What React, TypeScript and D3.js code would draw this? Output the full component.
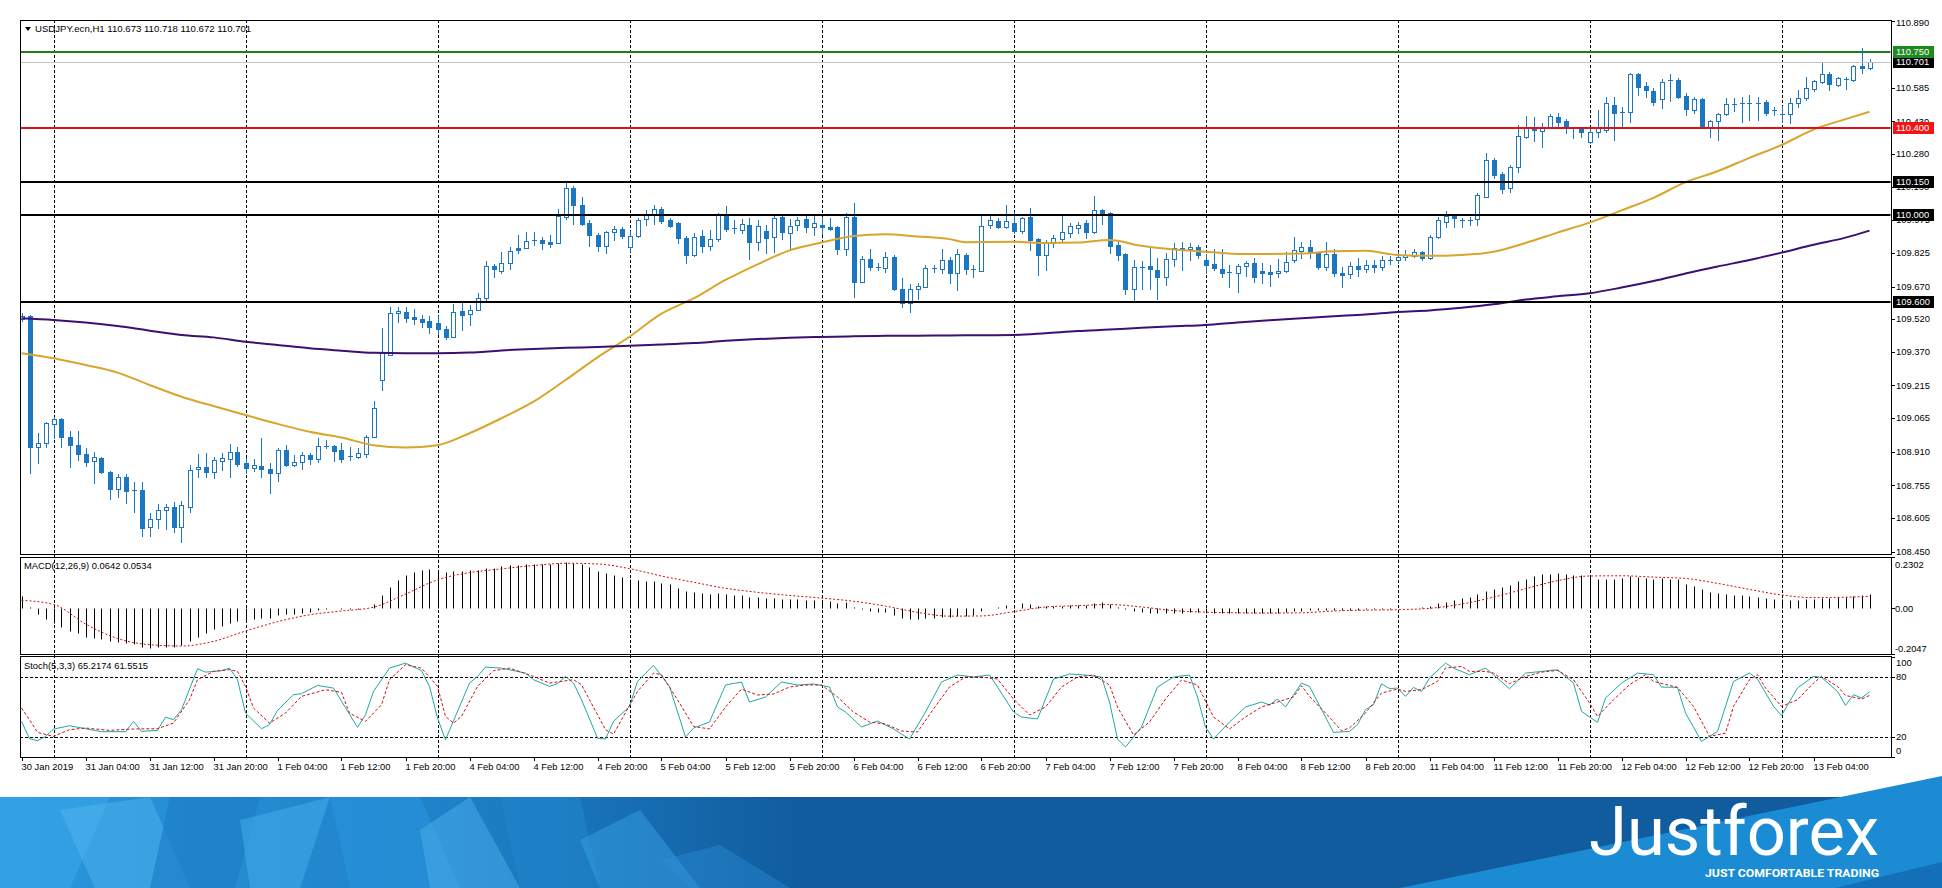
import React from "react";
import * as d3 from "d3";

// ---------------- DATA ----------------
const OPEN = [
109.520,109.536,108.930,108.952,109.038,109.061,108.978,108.940,108.898,108.866,
108.880,108.819,108.737,108.792,108.734,108.734,108.566,108.601,108.641,108.656,
108.566,108.658,108.829,108.841,108.819,108.869,108.878,108.907,108.857,108.834,
108.846,108.831,108.814,108.918,108.851,108.861,108.895,108.878,108.938,108.937,
108.918,108.890,108.885,108.900,108.979,109.240,109.355,109.547,109.554,109.531,
109.521,109.512,109.500,109.473,109.440,109.556,109.542,109.562,109.616,109.766,
109.743,109.777,109.846,109.846,109.881,109.884,109.875,109.869,109.991,110.122,
110.045,109.964,109.907,109.856,109.919,109.935,109.853,109.902,109.979,109.999,
110.025,109.976,109.961,109.892,109.815,109.904,109.856,109.887,110.000,109.938,
109.930,109.953,109.876,109.925,109.899,109.991,109.915,109.953,109.979,109.942,
109.953,109.944,109.945,109.841,109.991,109.692,109.795,109.760,109.754,109.804,
109.657,109.596,109.657,109.669,109.752,109.749,109.792,109.734,109.815,109.749,
109.743,109.953,109.973,109.945,109.964,109.927,109.991,109.887,109.815,109.869,
109.889,109.918,109.938,109.961,109.919,110.022,110.010,109.861,109.820,109.657,
109.761,109.764,109.746,109.715,109.795,109.849,109.841,109.850,109.792,109.772,
109.751,109.734,109.731,109.764,109.777,109.743,109.739,109.731,109.743,109.792,
109.835,109.851,109.828,109.762,109.820,109.734,109.728,109.766,109.752,109.770,
109.760,109.790,109.792,109.804,109.812,109.827,109.800,109.896,109.969,109.995,
109.973,109.976,109.981,110.083,110.252,110.188,110.122,110.218,110.359,110.405,
110.387,110.401,110.451,110.431,110.397,110.398,110.333,110.379,110.390,110.505,
110.474,110.474,110.648,110.592,110.571,110.531,110.620,110.620,110.546,110.482,
110.531,110.402,110.433,110.464,110.510,110.513,110.516,110.516,110.520,110.478,
110.462,110.464,110.513,110.536,110.577,110.612,110.648,110.597,110.623,110.620,
110.684,110.673];

const HIGH = [
109.550,109.539,108.995,109.048,109.068,109.064,109.006,109.006,108.926,108.910,
108.884,108.820,108.808,108.808,108.772,108.769,108.627,108.670,108.670,108.677,
108.685,108.849,108.900,108.903,108.888,108.903,108.946,108.933,108.880,108.875,
108.972,108.857,108.929,108.941,108.895,108.907,108.906,108.972,108.964,108.940,
108.949,108.934,108.926,108.987,109.145,109.478,109.577,109.577,109.577,109.565,
109.539,109.536,109.535,109.489,109.588,109.600,109.585,109.642,109.789,109.774,
109.830,109.850,109.907,109.922,109.922,109.899,109.907,110.025,110.157,110.132,
110.080,109.976,109.915,109.927,109.948,109.945,109.927,109.984,110.022,110.045,
110.037,109.984,109.968,109.902,109.915,109.930,109.930,110.007,110.040,109.976,
109.979,109.984,109.976,109.953,109.999,109.994,109.979,109.991,109.994,110.000,
109.991,109.984,109.948,110.007,110.053,109.810,109.841,109.777,109.830,109.815,
109.708,109.682,109.688,109.769,109.769,109.841,109.804,109.841,109.823,109.769,
110.000,110.000,109.984,110.045,110.014,109.991,110.030,109.892,109.884,109.907,
110.002,109.961,109.968,109.976,110.086,110.025,110.014,109.876,109.823,109.792,
109.789,109.846,109.800,109.823,109.872,109.876,109.872,109.861,109.820,109.841,
109.841,109.769,109.774,109.789,109.800,109.777,109.769,109.795,109.831,109.900,
109.877,109.884,109.831,109.877,109.841,109.762,109.785,109.800,109.790,109.792,
109.810,109.810,109.831,109.838,109.841,109.835,109.907,109.992,110.019,110.000,
109.984,109.992,110.099,110.283,110.260,110.198,110.229,110.413,110.454,110.451,
110.424,110.464,110.470,110.439,110.402,110.405,110.402,110.482,110.543,110.540,
110.497,110.651,110.651,110.612,110.582,110.623,110.648,110.628,110.562,110.543,
110.536,110.436,110.467,110.536,110.536,110.543,110.551,110.540,110.528,110.497,
110.500,110.536,110.574,110.635,110.620,110.704,110.658,110.635,110.632,110.689,
110.766,110.718];

const LOW = [
109.510,108.811,108.857,108.933,108.972,108.933,108.841,108.872,108.846,108.768,
108.811,108.693,108.703,108.676,108.634,108.524,108.524,108.558,108.553,108.539,
108.495,108.634,108.792,108.795,108.788,108.826,108.792,108.846,108.811,108.823,
108.795,108.722,108.777,108.846,108.844,108.831,108.854,108.863,108.926,108.868,
108.864,108.872,108.880,108.888,108.976,109.194,109.355,109.508,109.508,109.496,
109.485,109.455,109.452,109.429,109.440,109.470,109.493,109.562,109.600,109.715,
109.731,109.749,109.823,109.846,109.861,109.841,109.853,109.869,109.979,109.958,
109.953,109.856,109.835,109.826,109.884,109.892,109.835,109.899,109.953,109.958,
109.964,109.945,109.869,109.777,109.811,109.830,109.838,109.881,109.927,109.915,
109.915,109.795,109.838,109.823,109.830,109.889,109.838,109.930,109.922,109.907,
109.912,109.930,109.820,109.815,109.623,109.691,109.746,109.746,109.738,109.654,
109.574,109.554,109.611,109.666,109.738,109.731,109.685,109.654,109.728,109.715,
109.743,109.938,109.938,109.938,109.918,109.915,109.838,109.723,109.746,109.853,
109.876,109.899,109.915,109.892,109.915,109.958,109.823,109.792,109.636,109.605,
109.657,109.657,109.611,109.677,109.764,109.746,109.792,109.800,109.731,109.746,
109.712,109.669,109.646,109.718,109.693,109.685,109.673,109.716,109.739,109.785,
109.800,109.800,109.750,109.745,109.720,109.670,109.708,109.720,109.735,109.738,
109.745,109.775,109.777,109.792,109.808,109.792,109.795,109.892,109.946,109.946,
109.946,109.953,109.953,110.083,110.168,110.102,110.106,110.198,110.352,110.341,
110.313,110.398,110.402,110.378,110.352,110.356,110.332,110.359,110.382,110.344,
110.402,110.428,110.551,110.543,110.505,110.490,110.525,110.536,110.459,110.470,
110.398,110.359,110.344,110.459,110.479,110.428,110.436,110.436,110.459,110.459,
110.425,110.421,110.494,110.528,110.571,110.608,110.574,110.592,110.577,110.617,
110.651,110.672];

const CLOSE = [
109.535,108.930,108.949,109.041,109.059,108.976,108.940,108.898,108.864,108.886,
108.819,108.737,108.792,108.731,108.732,108.561,108.601,108.642,108.656,108.566,
108.665,108.826,108.841,108.819,108.872,108.881,108.907,108.854,108.834,108.849,
108.829,108.814,108.918,108.849,108.863,108.895,108.875,108.937,108.937,108.915,
108.877,108.888,108.906,108.979,109.110,109.363,109.547,109.558,109.524,109.519,
109.508,109.485,109.473,109.440,109.554,109.541,109.562,109.616,109.765,109.749,
109.777,109.833,109.838,109.881,109.882,109.872,109.866,109.994,110.122,110.045,
109.958,109.907,109.856,109.919,109.935,109.904,109.902,109.976,109.999,110.025,
109.973,109.950,109.892,109.815,109.899,109.856,109.887,110.000,109.933,109.938,
109.958,109.876,109.948,109.895,109.987,109.919,109.948,109.976,109.942,109.964,
109.942,109.935,109.841,109.991,109.692,109.795,109.758,109.758,109.804,109.657,
109.593,109.657,109.672,109.754,109.753,109.792,109.734,109.820,109.749,109.750,
109.948,109.976,109.942,109.971,109.927,109.984,109.884,109.815,109.872,109.892,
109.922,109.948,109.953,109.919,110.022,110.010,109.858,109.815,109.657,109.761,
109.762,109.749,109.715,109.795,109.846,109.838,109.853,109.815,109.769,109.754,
109.734,109.735,109.764,109.780,109.716,109.731,109.728,109.743,109.785,109.838,
109.851,109.826,109.762,109.820,109.731,109.723,109.766,109.752,109.770,109.760,
109.790,109.793,109.804,109.815,109.827,109.800,109.900,109.976,109.995,109.984,
109.974,109.977,110.091,110.252,110.183,110.117,110.221,110.363,110.405,110.390,
110.401,110.454,110.428,110.402,110.396,110.379,110.379,110.398,110.513,110.467,
110.468,110.648,110.589,110.574,110.520,110.612,110.614,110.543,110.485,110.531,
110.402,110.431,110.462,110.510,110.511,110.512,110.515,110.513,110.467,110.482,
110.459,110.513,110.536,110.582,110.615,110.648,110.602,110.628,110.624,110.684,
110.673,110.701];

// moving averages read at sample bars: [bar, price]
const MA_FAST: [number, number][] = [
[0,109.363],[4,109.340],[8,109.309],[12,109.274],[16,109.217],[20,109.163],[24,109.120],
[28,109.079],[32,109.038],[36,109.002],[40,108.975],[44,108.940],[48,108.929],[52,108.940],
[56,108.995],[60,109.064],[64,109.140],[68,109.240],[72,109.344],[76,109.439],[80,109.545],
[84,109.615],[88,109.700],[92,109.772],[96,109.836],[100,109.872],[104,109.902],[108,109.910],
[112,109.900],[116,109.888],[118,109.874],[124,109.876],[128,109.870],[132,109.872],
[136,109.884],[140,109.857],[144,109.840],[148,109.830],[152,109.820],[156,109.820],
[160,109.822],[164,109.832],[168,109.834],[172,109.815],[176,109.811],[180,109.815],
[184,109.830],[188,109.870],[192,109.918],[196,109.964],[200,110.020],[204,110.078],
[208,110.150],[212,110.200],[216,110.262],[220,110.321],[224,110.392],[228,110.440],[231,110.474]];

const MA_SLOW: [number, number][] = [
[0,109.524],[4,109.516],[8,109.504],[12,109.488],[16,109.467],[20,109.447],[24,109.436],
[28,109.416],[32,109.401],[36,109.386],[40,109.375],[44,109.365],[48,109.363],[52,109.363],
[56,109.366],[60,109.376],[64,109.383],[68,109.388],[72,109.392],[76,109.397],[80,109.403],
[84,109.410],[88,109.420],[92,109.428],[96,109.434],[100,109.438],[104,109.441],[108,109.443],
[112,109.444],[116,109.445],[120,109.446],[124,109.447],[128,109.455],[132,109.465],
[136,109.472],[140,109.480],[144,109.487],[148,109.493],[152,109.505],[156,109.515],
[160,109.524],[164,109.533],[168,109.541],[172,109.553],[176,109.560],[180,109.572],
[184,109.588],[188,109.610],[192,109.625],[196,109.639],[200,109.665],[204,109.695],
[208,109.730],[212,109.762],[216,109.792],[220,109.826],[224,109.862],[228,109.895],[231,109.927]];

const MACD_HIST = [
0.055,0.006,-0.027,-0.049,-0.064,-0.082,-0.102,-0.109,-0.127,-0.132,
-0.139,-0.146,-0.149,-0.157,-0.161,-0.172,-0.176,-0.172,-0.172,-0.172,
-0.166,-0.146,-0.127,-0.109,-0.094,-0.079,-0.064,-0.057,-0.052,-0.049,
-0.042,-0.042,-0.031,-0.027,-0.027,-0.019,-0.015,-0.009,-0.003,0.000,
-0.001,-0.001,-0.001,0.003,0.018,0.060,0.096,0.127,0.148,0.164,
0.170,0.175,0.163,0.163,0.166,0.167,0.170,0.172,0.179,0.182,
0.190,0.193,0.196,0.197,0.197,0.197,0.200,0.202,0.208,0.205,
0.197,0.185,0.167,0.160,0.148,0.141,0.133,0.127,0.123,0.123,
0.115,0.111,0.093,0.078,0.075,0.070,0.066,0.068,0.066,0.062,
0.060,0.053,0.050,0.045,0.046,0.042,0.040,0.040,0.038,0.037,
0.035,0.033,0.025,0.028,0.008,-0.002,-0.010,-0.016,-0.018,-0.030,
-0.042,-0.046,-0.048,-0.045,-0.043,-0.040,-0.040,-0.035,-0.034,-0.032,
-0.012,0.000,0.008,0.014,0.017,0.022,0.020,0.012,0.010,0.010,
0.012,0.015,0.017,0.016,0.024,0.027,0.018,0.008,-0.005,-0.012,
-0.016,-0.019,-0.022,-0.022,-0.020,-0.019,-0.018,-0.018,-0.020,-0.021,
-0.022,-0.023,-0.022,-0.020,-0.020,-0.021,-0.021,-0.019,-0.016,-0.012,
-0.010,-0.008,-0.008,-0.008,-0.007,-0.007,-0.006,-0.006,-0.005,-0.004,
-0.002,-0.001,0.000,0.001,0.002,0.006,0.010,0.022,0.030,0.037,
0.045,0.052,0.063,0.078,0.085,0.096,0.105,0.123,0.133,0.145,
0.152,0.155,0.160,0.155,0.149,0.148,0.145,0.133,0.133,0.133,
0.138,0.145,0.141,0.138,0.133,0.135,0.133,0.130,0.111,0.100,
0.085,0.075,0.067,0.063,0.060,0.058,0.055,0.052,0.048,0.043,
0.040,0.037,0.037,0.040,0.043,0.045,0.048,0.051,0.052,0.055,
0.058,0.0642];

const MACD_SIGNAL: [number, number][] = [
[0,0.036],[4,0.018],[8,-0.070],[12,-0.135],[16,-0.163],[20,-0.169],[24,-0.148],[28,-0.102],
[32,-0.060],[36,-0.029],[40,-0.012],[44,0.005],[48,0.064],[52,0.128],[56,0.160],[60,0.177],
[64,0.192],[68,0.202],[72,0.199],[76,0.178],[80,0.145],[84,0.117],[88,0.090],[92,0.072],
[96,0.058],[100,0.046],[104,0.032],[108,0.010],[112,-0.018],[116,-0.035],[120,-0.034],
[124,-0.015],[128,0.006],[132,0.012],[136,0.017],[140,0.006],[144,-0.010],[148,-0.017],
[152,-0.020],[156,-0.021],[160,-0.020],[164,-0.012],[168,-0.008],[172,-0.006],[176,0.000],
[180,0.019],[184,0.050],[188,0.088],[192,0.124],[196,0.145],[200,0.146],[204,0.140],
[208,0.134],[212,0.112],[216,0.085],[220,0.060],[224,0.048],[228,0.050],[231,0.0534]];

const STOCH_K: [number, number][] = [
[0,35.6],[1,18.3],[2,16.3],[3,20.6],[4,27.9],[6,31.3],[8,28.3],[10,25.3],[13,25.3],[14,35.6],
[15,25.6],[17,26.6],[18,39.9],[19,37.3],[20,47.3],[22,88.3],[23,84.9],[25,86.3],[26,88.9],
[27,77.3],[28,43.9],[30,28.3],[31,32.3],[32,46.6],[34,62.3],[35,63.3],[37,71.6],[39,68.9],
[42,29.6],[43,42.3],[44,65.6],[46,88.9],[48,93.9],[50,86.3],[51,70.6],[52,38.9],[53,17.3],
[56,73.9],[57,80.6],[58,89.9],[60,88.9],[63,83.9],[64,77.3],[66,70.6],[67,73.3],[68,80.6],
[69,73.9],[70,57.3],[72,18.9],[73,17.9],[74,35.6],[76,50.6],[77,75.6],[79,91.6],[81,70.6],
[83,19.9],[84,28.9],[86,35],[88,72],[90,75],[91,55],[93,60],[95,75],[97,72],[99,73],[101,70],
[102,50],[103,45],[105,30],[107,36],[109,28],[111,18],[113,45],[115,75],[117,82],[119,80],
[121,82],[122,70],[124,45],[125,40],[127,38],[129,78],[131,83],[133,82],[135,80],[136,55],
[137,18],[138,10],[140,30],[142,70],[144,80],[146,82],[147,60],[148,30],[149,18],[151,35],
[153,50],[155,55],[156,52],[157,58],[158,50],[160,73.9],[161,70.6],[164,24.6],[166,25.6],
[167,32.3],[168,47.3],[169,52.3],[170,73.3],[171,68.3],[172,69],[173,60.6],[174,69.6],
[175,65.6],[176,78.9],[178,93.9],[179,88.9],[181,82.3],[183,88.9],[184,82.3],[186,68.3],
[188,83.9],[190,85.6],[192,87.3],[194,73.9],[195,45.6],[197,34.6],[198,59],[200,73.9],
[202,83.9],[204,82.3],[205,69.9],[207,69.6],[208,44],[210,15.6],[212,25.6],[214,75.6],
[216,83.9],[217,77.9],[219,50.6],[220,41.6],[222,69],[224,80.6],[225,79.6],[227,65.6],
[228,51.6],[229,62.3],[230,59],[231,65.2]];

const STOCH_D: [number, number][] = [
[0,48.9],[1,37.3],[2,24.6],[4,20.6],[6,27.3],[8,29],[11,26.6],[14,28],[17,28.3],[19,33.9],
[21,57.3],[22,77.3],[24,85.6],[26,87.3],[27,85.6],[28,70.6],[29,48.9],[31,33.9],[33,43.9],
[35,60.6],[38,67.3],[40,64.6],[41,43.9],[43,35.6],[45,52.3],[46,77.3],[48,92.3],[50,88.9],
[52,70.6],[53,40.6],[54,33.9],[55,40.6],[57,70.6],[59,86.3],[61,88.9],[64,80.6],[66,73.9],
[69,77.3],[70,72.3],[71,57.3],[73,27.3],[74,22.9],[75,37.3],[77,65.6],[79,83.9],[80,82.3],
[82,57.3],[84,30.6],[86,28],[88,50],[90,68],[92,62],[94,63],[96,70],[98,72],[100,72],[102,60],
[104,45],[106,35],[108,33],[110,26],[112,25],[114,48],[116,70],[118,80],[120,80],[122,78],
[124,58],[126,42],[128,50],[130,70],[132,80],[134,82],[136,72],[137,50],[139,22],[141,35],
[143,58],[145,77],[147,72],[149,40],[151,28],[153,40],[155,50],[157,55],[159,60],[160,71.3],
[161,60.6],[163,44],[165,26.3],[166,29],[168,44],[170,64],[172,67.9],[173,65.6],[175,67.3],
[177,75.6],[178,88.9],[180,90.6],[181,85.6],[183,85.6],[184,83.9],[186,73.3],[188,80.6],
[190,84.9],[192,86.6],[194,77.3],[196,54],[197,40.6],[199,57.3],[201,72.3],[203,82.3],
[204,75.6],[207,69.6],[209,50.6],[211,20.6],[213,23.9],[214,50.6],[216,77.3],[217,82.3],
[218,69],[220,50.6],[222,57.3],[224,73.9],[225,80.6],[227,70.6],[228,61.6],[230,57.9],[231,61.6]];

const TIME_LABELS = [
"30 Jan 2019","31 Jan 04:00","31 Jan 12:00","31 Jan 20:00","1 Feb 04:00","1 Feb 12:00",
"1 Feb 20:00","4 Feb 04:00","4 Feb 12:00","4 Feb 20:00","5 Feb 04:00","5 Feb 12:00",
"5 Feb 20:00","6 Feb 04:00","6 Feb 12:00","6 Feb 20:00","7 Feb 04:00","7 Feb 12:00",
"7 Feb 20:00","8 Feb 04:00","8 Feb 12:00","8 Feb 20:00","11 Feb 04:00","11 Feb 12:00",
"11 Feb 20:00","12 Feb 04:00","12 Feb 12:00","12 Feb 20:00","13 Feb 04:00"];
const TIME_LABEL_BARS = TIME_LABELS.map((_, k) => k * 8);
const GRID_BARS = [4, 28, 52, 76, 100, 124, 148, 172, 196, 220];
const PRICE_TICKS = [110.890,110.585,110.430,110.280,110.130,109.975,109.825,109.670,
109.520,109.370,109.215,109.065,108.910,108.755,108.605,108.450];
const LEVEL_PRICES = [110.750, 110.400, 110.150, 110.000, 109.600];
const LEVEL_KINDS = ["green", "red", "black", "black", "black"];
const LAST_PRICE = 110.701;
const MACD_TICKS = [0.2302, 0, -0.2047];
const MACD_TICK_TEXT = ["0.2302", "0.00", "-0.2047"];
const STOCH_TICKS = [100, 80, 20, 0];
const STOCH_LEVELS = [80, 20];
const HEADER = "USDJPY.ecn,H1  110.673 110.718 110.672 110.701";
const MACD_TITLE = "MACD(12,26,9) 0.0642 0.0534";
const STOCH_TITLE = "Stoch(5,3,3) 65.2174 61.5515";

// ---------------- CHART ----------------
const FONT = "'Liberation Sans', Arial, sans-serif";
const BLUE = "#1a77c0";

export default function App() {
  const W = 1942, H = 888;
  const L = 20, R = 1891;
  const mainT = 20, mainB = 554, macdT = 557, macdB = 654, stoT = 656, stoB = 757;

  const x = d3.scaleLinear().domain([0, 231]).range([21.5, 21.5 + 8 * 231]);
  const y = d3.scaleLinear().domain([108.4395, 110.896]).range([mainB, mainT]);
  const ym = d3.scaleLinear().domain([-0.2047, 0.2302]).range([macdB, macdT]);
  const ys = d3.scaleLinear().domain([0, 100]).range([757, 657]);

  const maLine = d3.line<[number, number]>().x(d => x(d[0])).y(d => y(d[1])).curve(d3.curveMonotoneX);
  const sigLine = d3.line<[number, number]>().x(d => x(d[0])).y(d => ym(d[1])).curve(d3.curveMonotoneX);
  const stLine = d3.line<[number, number]>().x(d => x(d[0])).y(d => ys(d[1]));

  const levelColor: Record<string, string> = { green: "#1e7d1e", red: "#dc1414", black: "#000" };
  const levelBox: Record<string, string> = { green: "#1f8a1f", red: "#f41414", black: "#000" };

  const clampY = (v: number, lo: number, hi: number) => Math.max(lo, Math.min(hi, v));

  const candles = OPEN.map((o, i) => {
    const c = CLOSE[i], h = HIGH[i], l = LOW[i];
    const cx = Math.round(x(i)) + 0.5;
    const yTop = Math.round(y(Math.max(o, c)));
    const yBot = Math.round(y(Math.min(o, c)));
    const yh = Math.round(y(h)), yl = Math.round(y(l));
    const bull = c >= o;
    const doji = yBot - yTop <= 1;
    return (
      <g key={i}>
        <line x1={cx} x2={cx} y1={yh} y2={yl + 1} stroke={BLUE} strokeWidth={1} />
        {doji ? (
          <line x1={cx - 2.5} x2={cx + 2.5} y1={yTop + 0.5} y2={yTop + 0.5} stroke={BLUE} strokeWidth={1} />
        ) : bull ? (
          <rect x={cx - 2} y={yTop + 0.5} width={4} height={yBot - yTop} fill="#fff" stroke={BLUE} strokeWidth={1} />
        ) : (
          <rect x={cx - 2.5} y={yTop} width={5} height={yBot - yTop + 1} fill={BLUE} />
        )}
      </g>
    );
  });

  const zeroY = Math.round(ym(0)) + 0.5;

  return (
    <svg width={W} height={H} style={{ position: "absolute", left: 0, top: 0 }} fontFamily={FONT}>
      <defs>
        <clipPath id="cpMain"><rect x={L + 0.5} y={mainT + 0.5} width={R - L - 1} height={mainB - mainT - 1} /></clipPath>
        <clipPath id="cpMacd"><rect x={L + 0.5} y={macdT + 0.5} width={R - L - 1} height={macdB - macdT - 1} /></clipPath>
        <clipPath id="cpSto"><rect x={L + 0.5} y={stoT + 0.5} width={R - L - 1} height={stoB - stoT - 1} /></clipPath>
        <linearGradient id="gLeft" x1="0" x2="1" y1="0" y2="0">
          <stop offset="0" stopColor="#2b97dc" />
          <stop offset="0.55" stopColor="#1f82c9" />
          <stop offset="1" stopColor="#105c9e" />
        </linearGradient>
      </defs>
      <rect x={0} y={0} width={W} height={H} fill="#fff" />

      {/* vertical dashed grid through all panels */}
      {GRID_BARS.map(b => {
        const gx = Math.round(x(b)) + 0.5;
        return <line key={b} x1={gx} x2={gx} y1={mainT} y2={stoB} stroke="#000" strokeWidth={1} strokeDasharray="3,2" />;
      })}

      {/* ---------- main panel ---------- */}
      <g clipPath="url(#cpMain)">
        {candles}
        <path d={maLine(MA_FAST) || ""} fill="none" stroke="#d9a52a" strokeWidth={2} />
        <path d={maLine(MA_SLOW) || ""} fill="none" stroke="#3e0f72" strokeWidth={2} />
        <line x1={L} x2={R} y1={Math.round(y(LAST_PRICE)) + 0.5} y2={Math.round(y(LAST_PRICE)) + 0.5} stroke="#c0c0c0" strokeWidth={1} />
        {LEVEL_PRICES.map((p, i) => (
          <line key={p} x1={L} x2={R} y1={Math.round(y(p))} y2={Math.round(y(p))} stroke={levelColor[LEVEL_KINDS[i]]} strokeWidth={2} />
        ))}
      </g>
      <g>
        <path d="M25,27 L31,27 L28,31 Z" fill="#000" />
        <text x={35} y={32} fontSize={9.6} fill="#000">{HEADER}</text>
      </g>

      {/* price axis */}
      {PRICE_TICKS.map(p => {
        const ty = y(p);
        return (
          <g key={p}>
            <line x1={R} x2={R + 4} y1={Math.round(ty) + 0.5} y2={Math.round(ty) + 0.5} stroke="#000" />
            <text x={1896} y={clampY(ty, mainT + 3, mainB)} dy="0.35em" fontSize={9.4} fill="#000">{p.toFixed(3)}</text>
          </g>
        );
      })}
      {[LAST_PRICE, ...LEVEL_PRICES].map((p, i) => {
        const kind = i === 0 ? "black" : LEVEL_KINDS[i - 1];
        const ty = Math.round(y(p));
        return (
          <g key={"lb" + p}>
            <rect x={1893} y={ty - 6} width={41} height={12} fill={levelBox[kind]} />
            <text x={1896} y={ty} dy="0.35em" fontSize={9.4} fill="#fff">{p.toFixed(3)}</text>
          </g>
        );
      })}

      {/* ---------- MACD panel ---------- */}
      <g clipPath="url(#cpMacd)">
        {MACD_HIST.map((v, i) => {
          const cx = Math.round(x(i)) + 0.5;
          const vy = Math.round(ym(v)) + 0.5;
          return <line key={i} x1={cx} x2={cx} y1={zeroY} y2={vy} stroke="#000" strokeWidth={1} />;
        })}
        <path d={sigLine(MACD_SIGNAL) || ""} fill="none" stroke="#d01010" strokeWidth={1} strokeDasharray="2,2" />
      </g>
      <text x={24} y={566} dy="0.35em" fontSize={9.4} fill="#000">{MACD_TITLE}</text>
      {MACD_TICKS.map((v, i) => (
        <g key={"mt" + i}>
          <line x1={R} x2={R + 4} y1={Math.round(ym(v)) + 0.5} y2={Math.round(ym(v)) + 0.5} stroke="#000" />
          <text x={1895} y={clampY(ym(v), macdT + 8, macdB - 5)} dy="0.35em" fontSize={9.4} fill="#000">{MACD_TICK_TEXT[i]}</text>
        </g>
      ))}

      {/* ---------- Stochastic panel ---------- */}
      <g clipPath="url(#cpSto)">
        {STOCH_LEVELS.map(v => (
          <line key={v} x1={L} x2={R} y1={Math.round(ys(v)) + 0.5} y2={Math.round(ys(v)) + 0.5} stroke="#000" strokeDasharray="3,2" />
        ))}
        <path d={stLine(STOCH_K) || ""} fill="none" stroke="#20a8a0" strokeWidth={1} />
        <path d={stLine(STOCH_D) || ""} fill="none" stroke="#d01010" strokeWidth={1} strokeDasharray="3,2" />
      </g>
      <text x={24} y={666} dy="0.35em" fontSize={9.4} fill="#000">{STOCH_TITLE}</text>
      {STOCH_TICKS.map(v => (
        <g key={"st" + v}>
          <line x1={R} x2={R + 4} y1={Math.round(ys(v)) + 0.5} y2={Math.round(ys(v)) + 0.5} stroke="#000" />
          <text x={1896} y={clampY(ys(v), stoT + 7, stoB - 6.5)} dy="0.35em" fontSize={9.4} fill="#000">{v}</text>
        </g>
      ))}

      {/* panel borders */}
      <rect x={L + 0.5} y={mainT + 0.5} width={R - L} height={mainB - mainT} fill="none" stroke="#000" />
      <rect x={L + 0.5} y={macdT + 0.5} width={R - L} height={macdB - macdT} fill="none" stroke="#000" />
      <rect x={L + 0.5} y={stoT + 0.5} width={R - L} height={stoB - stoT} fill="none" stroke="#000" />

      {/* ---------- footer banner ---------- */}
      <g>
        <rect x={0} y={797} width={W} height={H - 797} fill="#105c9e" />
        <rect x={0} y={797} width={800} height={H - 797} fill="url(#gLeft)" />
        <polygon points="0,797 110,797 70,888 0,888" fill="#3aa6ea" opacity={0.6} />
        <polygon points="60,810 150,797 190,888 95,888" fill="#55b8f2" opacity={0.45} />
        <polygon points="170,797 260,797 235,888 150,888" fill="#1c7fc8" opacity={0.7} />
        <polygon points="240,820 330,797 300,888 250,888" fill="#45b0ee" opacity={0.5} />
        <polygon points="330,797 420,797 460,888 350,888" fill="#2a95dc" opacity={0.6} />
        <polygon points="420,830 470,797 520,888 430,888" fill="#50b4ef" opacity={0.45} />
        <polygon points="500,797 580,797 600,888 520,888" fill="#1f86cc" opacity={0.6} />
        <polygon points="580,840 640,810 700,888 600,888" fill="#3aa3e6" opacity={0.45} />
        <polygon points="660,860 720,845 790,888 690,888" fill="#2c8fd6" opacity={0.4} />
        <polygon points="1400,888 1942,776 1942,888" fill="#1b8cd4" />
        <polygon points="1835,888 1942,862 1942,888" fill="#1370b8" />
        <text x={1589} y={855} fontSize={68} fill="#fff" fontFamily="Roboto, 'Open Sans', sans-serif"
          textLength={290} lengthAdjust="spacingAndGlyphs">Justforex</text>
        <text x={1705} y={877} fontSize={11} fontWeight="bold" fill="#fff" fontFamily="Roboto, 'Open Sans', sans-serif"
          textLength={174} lengthAdjust="spacingAndGlyphs">JUST COMFORTABLE TRADING</text>
      </g>

      {/* time axis (drawn last so it stays visible) */}
      {TIME_LABELS.map((t, k) => {
        const bx = Math.round(x(TIME_LABEL_BARS[k])) + 0.5;
        return (
          <g key={t}>
            <line x1={bx} x2={bx} y1={stoB} y2={stoB + 4} stroke="#000" />
            <text x={bx - 1} y={770} fontSize={9.4} fill="#000">{t}</text>
          </g>
        );
      })}
    </svg>
  );
}
